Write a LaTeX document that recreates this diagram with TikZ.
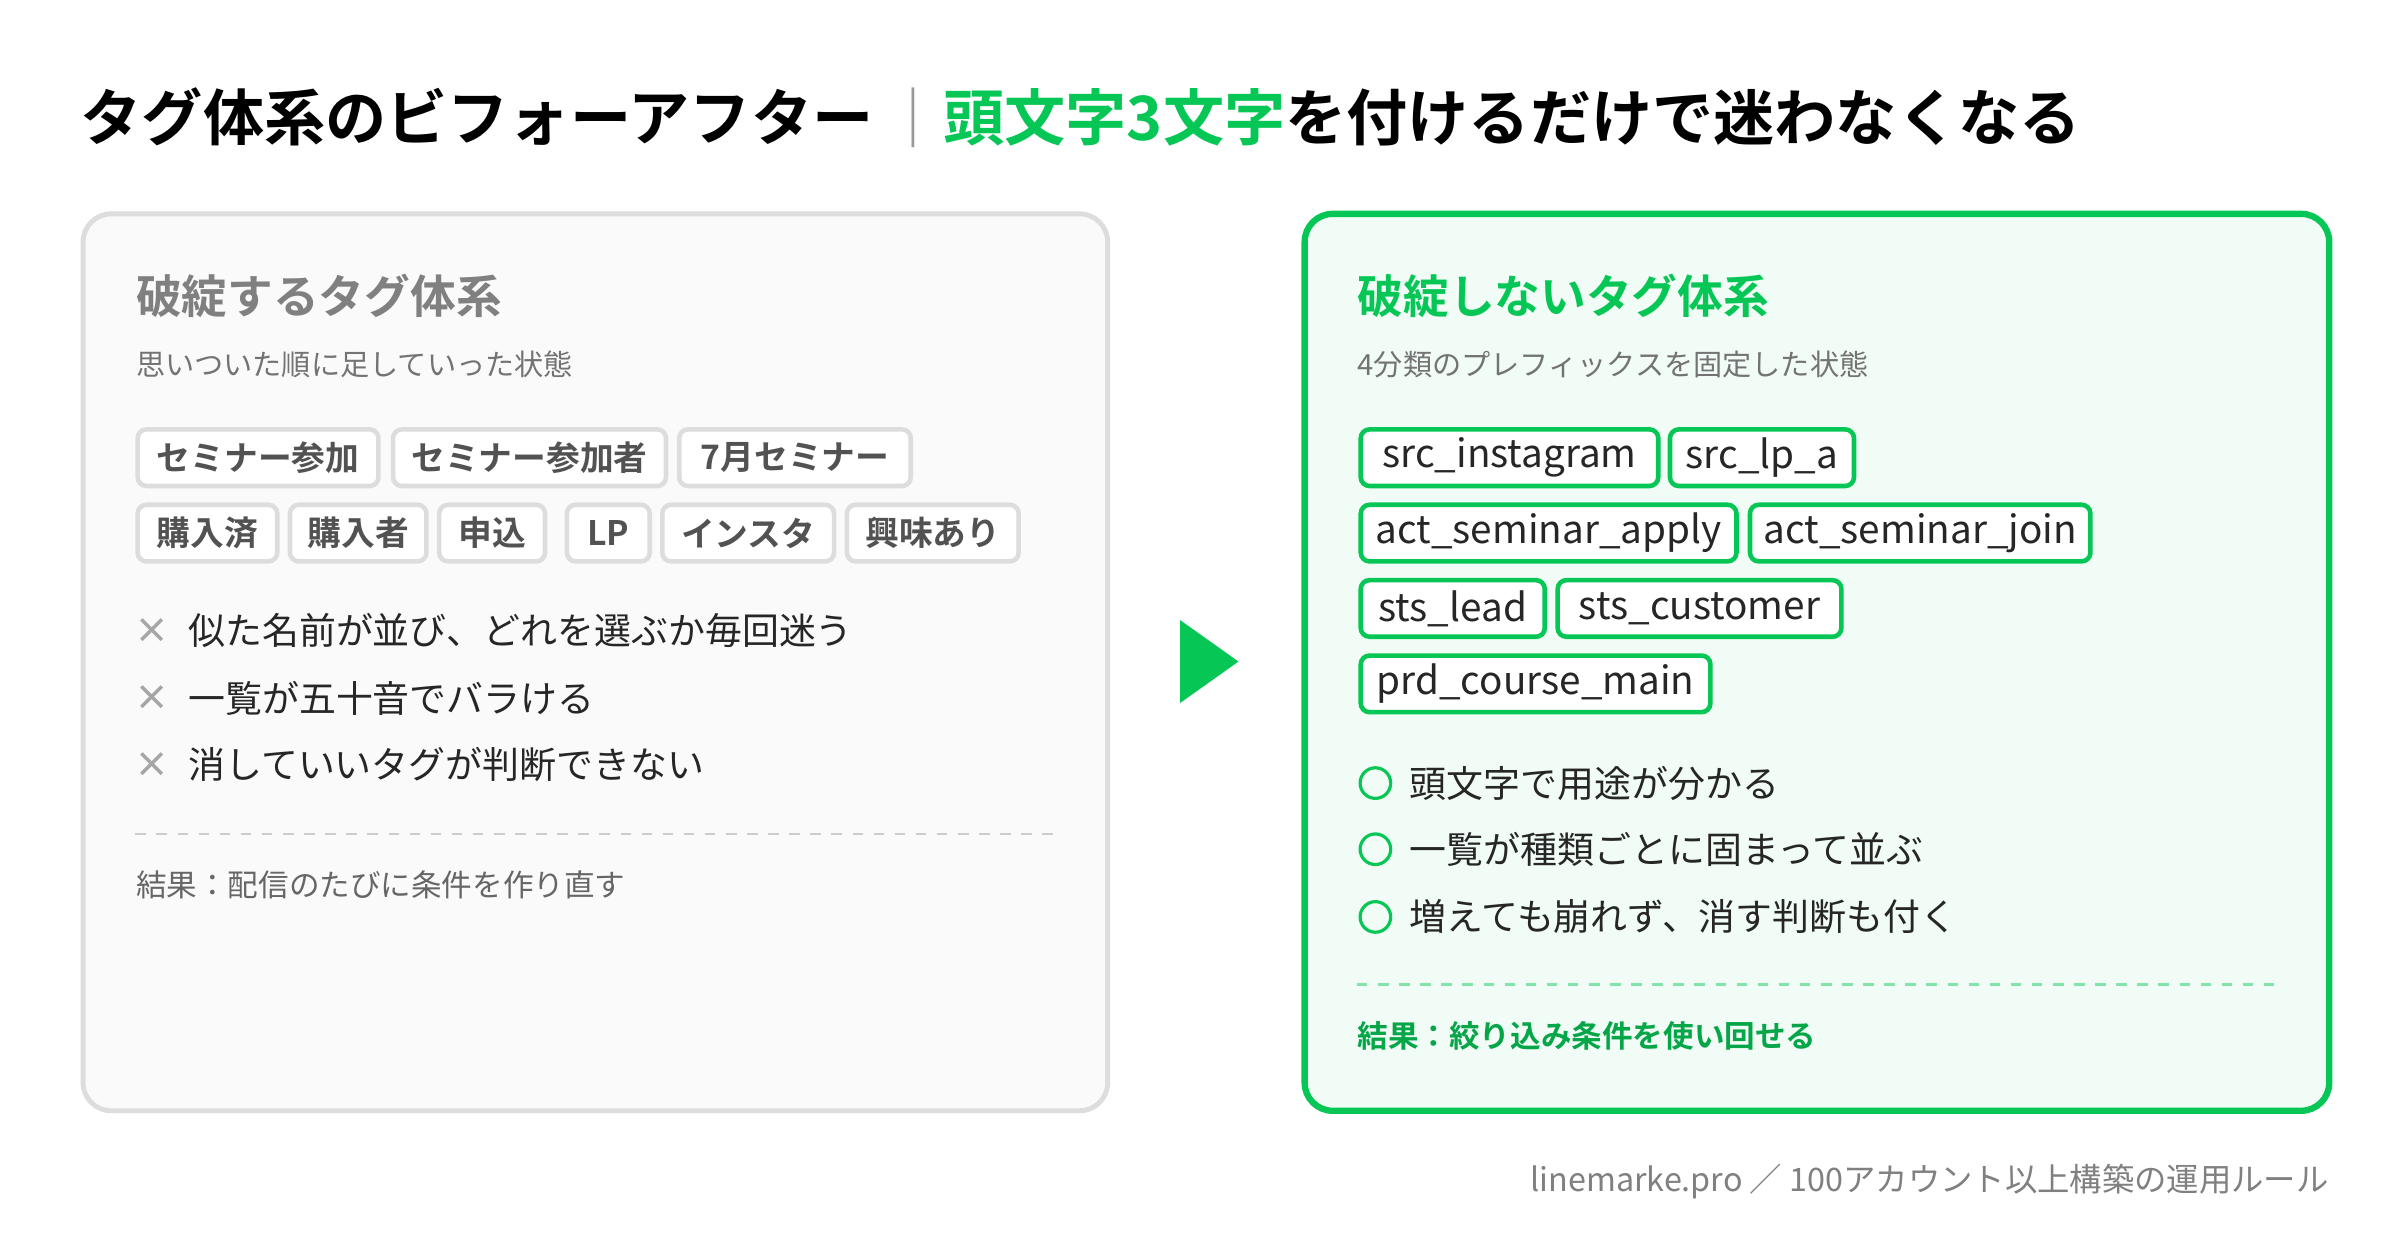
\documentclass[tikz,border=0pt]{standalone}
\usepackage{fontspec}
\setmainfont{Noto Sans CJK JP}
\newfontfamily\jpb{Noto Sans CJK JP Bold}
\definecolor{lgreen}{HTML}{06C755}
\definecolor{dgreen}{HTML}{05A648}
\definecolor{gbord}{HTML}{DDDDDD}
\begin{document}
\begin{tikzpicture}[x=0.015385cm,y=-0.015385cm,
  w/.style={minimum width=#1*0.4362pt},
  tagL/.style={draw=gbord,line width=1.3pt,fill=white,rounded corners=2.5pt,anchor=west,minimum height=16.1pt,inner sep=0pt,text=black!68,font=\fontsize{9.6}{10}\jpb},
  tagR/.style={draw=lgreen,line width=1.3pt,fill=white,rounded corners=2.5pt,anchor=west,minimum height=16.1pt,inner sep=0pt,text=black!85,font=\fontsize{11}{12}\selectfont},
  head/.style={anchor=west,inner sep=0pt,font=\fontsize{13}{14}\jpb},
  sub/.style={anchor=west,inner sep=0pt,text=black!55,font=\fontsize{8.3}{9}\selectfont},
  item/.style={anchor=west,inner sep=0pt,text=black!85,font=\fontsize{10.5}{11}\selectfont},
  res/.style={anchor=west,inner sep=0pt,font=\fontsize{8.7}{9}\selectfont}]
\useasboundingbox[fill=white] (0,0) rectangle (1560,812.5);
\node[anchor=base west,inner sep=0pt,font=\fontsize{17.4}{18}\jpb] (title) at (52,91) {タグ体系のビフォーアフター\,{\color{black!40}\fontsize{17}{18}\selectfont ｜}{\color{lgreen}頭文字3文字}を付けるだけで迷わなくなる};
% left box
\draw[gbord,fill=black!2,line width=1.4pt,rounded corners=8pt] (54,139) rectangle (720,722);
\node[head,text=black!50] (lh) at (88,192) {破綻するタグ体系};
\node[sub] (ls) at (88,237) {思いついた順に足していった状態};
\node[tagL,w=157] (a1) at (88,297.5) {セミナー参加};
\node[tagL,w=178] (a2) at (254,297.5) {セミナー参加者};
\node[tagL,w=151] (a3) at (440,297.5) {7月セミナー};
\node[tagL,w=91] (b1) at (88,346.5) {購入済};
\node[tagL,w=89] (b2) at (187,346.5) {購入者};
\node[tagL,w=69] (b3) at (284,346.5) {申込};
\node[tagL,w=54] (b4) at (367,346.5) {LP};
\node[tagL,w=112] (b5) at (429,346.5) {インスタ};
\node[tagL,w=112] (b6) at (549,346.5) {興味あり};
\foreach \y/\t [count=\i] in {410/似た名前が並び、どれを選ぶか毎回迷う,454/一覧が五十音でバラける,497/消していいタグが判断できない}{
  \node[text=black!35,font=\fontsize{10}{10}\jpb] (x\i) at (99,\y) {×};
  \node[item] (li\i) at (122,\y) {\t};}
\coordinate (ld1) at (88,542); \coordinate (ld2) at (686,542);
\draw[black!20,dashed,line width=0.7pt] (ld1) -- (ld2);
\node[res,text=black!60] (lr) at (88,575) {結果：配信のたびに条件を作り直す};
% arrow
\fill[lgreen] (767,403) -- (805,430) -- (767,457) -- cycle;
% right box
\draw[lgreen,fill=lgreen!6,line width=1.8pt,rounded corners=8pt] (848,139) rectangle (1514,722);
\node[head,text=lgreen] (rh) at (882,192) {破綻しないタグ体系};
\node[sub] (rs) at (882,237) {4分類のプレフィックスを固定した状態};
\node[tagR,w=194] (c1) at (883,297.5) {src\_instagram};
\node[tagR,w=120] (c2) at (1084,297.5) {src\_lp\_a};
\node[tagR,w=245] (d1) at (883,346.5) {act\_seminar\_apply};
\node[tagR,w=222] (d2) at (1136,346.5) {act\_seminar\_join};
\node[tagR,w=120] (e1) at (883,395.5) {sts\_lead};
\node[tagR,w=185] (e2) at (1011,395.5) {sts\_customer};
\node[tagR,w=228] (f1) at (883,444.5) {prd\_course\_main};
\foreach \y/\t [count=\i] in {509/頭文字で用途が分かる,552/一覧が種類ごとに固まって並ぶ,596/増えても崩れず、消す判断も付く}{
  \node[circle,draw=lgreen,line width=0.9pt,minimum size=8.7pt,inner sep=0pt] (o\i) at (894,\y) {};
  \node[item] (ri\i) at (916,\y) {\t};}
\coordinate (rd1) at (882,640); \coordinate (rd2) at (1480,640);
\draw[lgreen!50,dashed,line width=0.7pt] (rd1) -- (rd2);
\node[res,text=dgreen,font=\fontsize{8.7}{9}\jpb] (rr) at (882,673) {結果：絞り込み条件を使い回せる};
\node[anchor=east,inner sep=0pt,text=black!50,font=\fontsize{9.2}{10}\selectfont] (foot) at (1514,768) {linemarke.pro ／ 100アカウント以上構築の運用ルール};
\end{tikzpicture}
\end{document}
